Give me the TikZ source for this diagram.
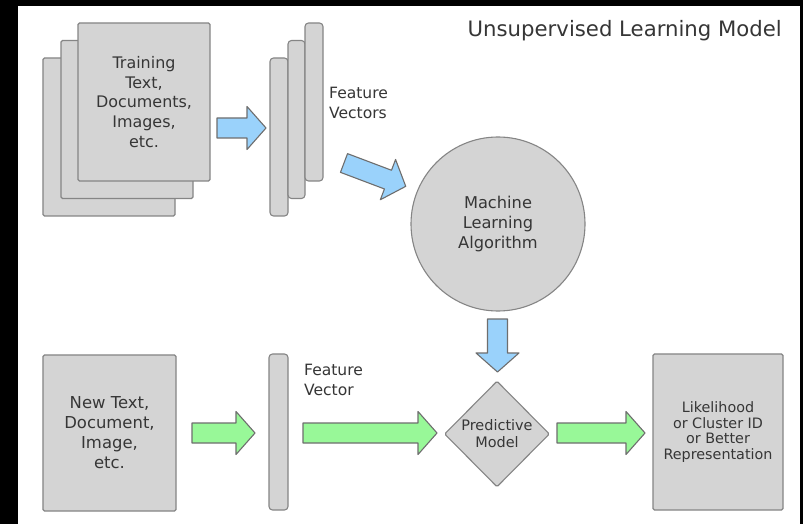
\documentclass[tikz,border=0pt]{standalone}
\usepackage{fontspec}
\setmainfont{DejaVu Sans}
\usetikzlibrary{shapes.geometric}
\definecolor{boxfill}{HTML}{D4D4D4}
\definecolor{boxline}{HTML}{858585}
\definecolor{inkgray}{HTML}{363636}
\definecolor{arrowblue}{HTML}{9AD2FB}
\definecolor{arrowgreen}{HTML}{98F898}
\definecolor{arrowline}{HTML}{6E6E6E}
\tikzset{
  sheet/.style={draw=boxline, fill=boxfill, line width=1.1bp, rounded corners=1.5bp,
    inner sep=0pt, text=inkgray, align=center},
  vecbar/.style={sheet, rounded corners=3.5bp},
  lbl/.style={text=inkgray, inner sep=0pt, align=center, font=\fontsize{15.6}{20}\selectfont},
  blockarrow/.pic={
    % local frame: tail at the origin, pointing along +x
    \draw[line width=1.1bp, draw=arrowline, fill=\arrfill, line join=round]
      (0,-10) -- (\arrlen-19,-10) -- (\arrlen-19,-21.5)
      -- (\arrlen,0)
      -- (\arrlen-19,21.5) -- (\arrlen-19,10)
      -- (0,10) -- cycle;
  },
}
% name, tail x, tail y, length, fill colour, direction angle
\newcommand\blockarr[6]{%
  \def\arrlen{#4}\def\arrfill{#5}%
  \pic[rotate=#6] (#1) at (#2,#3) {blockarrow};%
}
\begin{document}
\begin{tikzpicture}[x=1bp, y=-1bp]
  % frame
  \fill[black] (0,0) rectangle (803,524);
  \fill[white] (18,6) rectangle (800,524);
  \useasboundingbox (0,0) rectangle (803,524);

  % title
  \node[lbl, anchor=east, font=\fontsize{21.3}{26}\selectfont] (title) at (782,31)
    {Unsupervised Learning Model};

  % stack of training documents
  \node[sheet, minimum width=132bp, minimum height=158bp] (docA) at (109,137) {};
  \node[sheet, minimum width=132bp, minimum height=158bp] (docB) at (127,119.5) {};
  \node[sheet, minimum width=132bp, minimum height=158bp,
        font=\fontsize{16}{20}\selectfont] (docC) at (144,102)
    {Training\\Text,\\Documents,\\Images,\\etc.};

  % feature vectors
  \node[vecbar, minimum width=18bp, minimum height=158bp] (fv1) at (279,137) {};
  \node[vecbar, minimum width=17bp, minimum height=158bp] (fv2) at (296.5,119.5) {};
  \node[vecbar, minimum width=18bp, minimum height=158bp] (fv3) at (314,102) {};
  \node[lbl, anchor=west, align=left] (fvlbl) at (329,103) {Feature\\Vectors};

  % learning algorithm
  \node[sheet, circle, minimum size=174bp, font=\fontsize{16.3}{20}\selectfont]
    (mla) at (498,224) {Machine\\Learning\\Algorithm};

  % new input
  \node[sheet, minimum width=133bp, minimum height=156bp,
        font=\fontsize{16.5}{20}\selectfont] (new) at (109.5,433)
    {New Text,\\Document,\\Image,\\etc.};
  \node[vecbar, minimum width=19bp, minimum height=156bp] (fv) at (278.5,432) {};
  \node[lbl, anchor=west, align=left] (fvone) at (304,380) {Feature\\Vector};

  % predictive model
  \node[sheet, diamond, aspect=1, minimum width=105bp, minimum height=106bp,
        font=\fontsize{14.5}{17}\selectfont] (pm) at (497,434) {Predictive\\Model};

  % output
  \node[sheet, minimum width=130bp, minimum height=156bp,
        font=\fontsize{14.4}{15.8}\selectfont] (out) at (718,432)
    {Likelihood\\or Cluster ID\\or Better\\Representation};

  % block arrows: training path (blue)
  \blockarr{aDocs}{217}{128}{49}{arrowblue}{0}
  \blockarr{aVecs}{344}{163}{66}{arrowblue}{-20.7}
  \blockarr{aModel}{497.5}{319}{53}{arrowblue}{-90}

  % block arrows: prediction path (green)
  \blockarr{aNew}{192}{433}{63}{arrowgreen}{0}
  \blockarr{aVec}{303}{433}{134}{arrowgreen}{0}
  \blockarr{aOut}{557}{433}{88}{arrowgreen}{0}
\end{tikzpicture}
\end{document}
